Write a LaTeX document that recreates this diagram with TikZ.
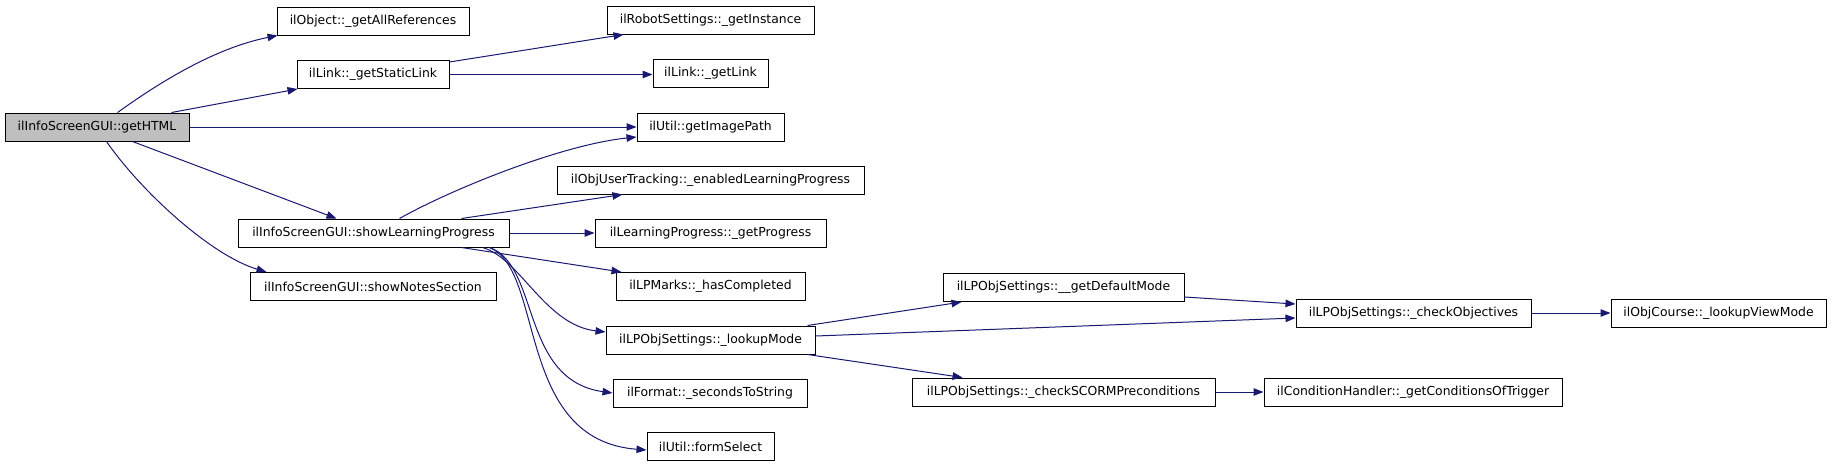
\documentclass[tikz,border=0pt]{standalone}
\usepackage{fontspec}
\setmainfont{DejaVu Sans}
\usetikzlibrary{arrows.meta}
\definecolor{edgeblue}{HTML}{191970}
\definecolor{focusgray}{HTML}{BFBFBF}
\tikzset{
  fn/.style={draw=black, line width=1pt, fill=white, rectangle, inner sep=0pt,
    minimum height=28pt, font=\fontsize{12.4pt}{14pt}\selectfont, text=black},
  focus/.style={fn, fill=focusgray},
  call/.style={draw=edgeblue, line width=1pt,
    -{Triangle[length=10pt,width=7.5pt,fill=edgeblue]}},
}
\begin{document}
\begin{tikzpicture}[x=1pt,y=-1pt]
\useasboundingbox (0,0) rectangle (1832,467);
% column 1
\node[focus, minimum width=184pt] (getHTML) at (97,127) {ilInfoScreenGUI::getHTML};
% column 2
\node[fn, minimum width=192pt] (allRefs) at (373,21) {ilObject::\_getAllReferences};
\node[fn, minimum width=152pt] (staticLink) at (373,74.5) {ilLink::\_getStaticLink};
\node[fn, minimum width=271pt] (showLP) at (373.5,233) {ilInfoScreenGUI::showLearningProgress};
\node[fn, minimum width=246pt] (showNotes) at (373,286.5) {ilInfoScreenGUI::showNotesSection};
% column 3
\node[fn, minimum width=207pt] (getInstance) at (710.5,20) {ilRobotSettings::\_getInstance};
\node[fn, minimum width=115pt] (getLink) at (710.5,73) {ilLink::\_getLink};
\node[fn, minimum width=147pt] (imagePath) at (710.5,127) {ilUtil::getImagePath};
\node[fn, minimum width=307pt] (enabledLP) at (710.5,180) {ilObjUserTracking::\_enabledLearningProgress};
\node[fn, minimum width=231pt] (getProgress) at (710.5,233) {ilLearningProgress::\_getProgress};
\node[fn, minimum width=189pt] (lpMarks) at (710.5,286.5) {ilLPMarks::\_hasCompleted};
\node[fn, minimum width=209pt] (lookupMode) at (710.5,340) {ilLPObjSettings::\_lookupMode};
\node[fn, minimum width=194pt] (format) at (710,393) {ilFormat::\_secondsToString};
\node[fn, minimum width=127pt] (formSelect) at (710.5,446.5) {ilUtil::formSelect};
% column 4
\node[fn, minimum width=241pt] (defaultMode) at (1063.5,287.5) {ilLPObjSettings::\_\_getDefaultMode};
\node[fn, minimum width=303pt] (scorm) at (1063.5,392) {ilLPObjSettings::\_checkSCORMPreconditions};
% column 5
\node[fn, minimum width=235pt] (objectives) at (1413.5,313) {ilLPObjSettings::\_checkObjectives};
\node[fn, minimum width=298pt] (condHandler) at (1413,392) {ilConditionHandler::\_getConditionsOfTrigger};
% column 6
\node[fn, minimum width=215pt] (viewMode) at (1718.5,313) {ilObjCourse::\_lookupViewMode};

% edges from getHTML
\draw[call] ([xshift=113pt]getHTML.north west) .. controls (160,82) and (215,48) .. ([xshift=1pt]allRefs.south west);
\draw[call] ([xshift=167pt]getHTML.north west) -- ([xshift=1pt]staticLink.south west);
\draw[call] (getHTML.east) -- (imagePath.west);
\draw[call] ([xshift=128pt]getHTML.south west) -- ([xshift=99pt]showLP.north west);
\draw[call] ([xshift=102pt]getHTML.south west) .. controls (140,190) and (210,255) .. ([xshift=17pt]showNotes.north west);
% edges from staticLink
\draw[call] ([yshift=-2pt]staticLink.north east) -- ([xshift=17pt]getInstance.south west);
\draw[call] (staticLink.east) -- (staticLink.east -| getLink.west);
% edges from showLP
\draw[call] ([xshift=162pt]showLP.north west) .. controls (450,190) and (560,145) .. ([yshift=-10pt]imagePath.west);
\draw[call] ([xshift=224pt]showLP.north west) -- ([xshift=66pt]enabledLP.south west);
\draw[call] (showLP.east) -- (getProgress.west);
\draw[call] ([xshift=224pt]showLP.south west) -- ([xshift=6pt]lpMarks.north west);
\draw[call] ([xshift=245pt]showLP.south west) .. controls (520,258) and (545,325) .. ([yshift=8pt]lookupMode.west);
\draw[call] ([xshift=252pt]showLP.south west) .. controls (540,265) and (520,380) .. (format.west);
\draw[call] ([xshift=252pt]showLP.south west) .. controls (545,270) and (515,440) .. ([yshift=-3.5pt]formSelect.west);
% edges from lookupMode
\draw[call] ([xshift=-8pt]lookupMode.north east) -- ([xshift=19pt]defaultMode.south west);
\draw[call] ([yshift=4pt]lookupMode.east) -- ([yshift=-5pt]objectives.west);
\draw[call] ([xshift=-8pt]lookupMode.south east) -- ([xshift=51pt]scorm.north west);
% remaining edges
\draw[call] ([yshift=-9.5pt]defaultMode.east) -- ([yshift=9pt]objectives.west);
\draw[call] (scorm.east) -- (condHandler.west);
\draw[call] (objectives.east) -- (viewMode.west);
\end{tikzpicture}
\end{document}
